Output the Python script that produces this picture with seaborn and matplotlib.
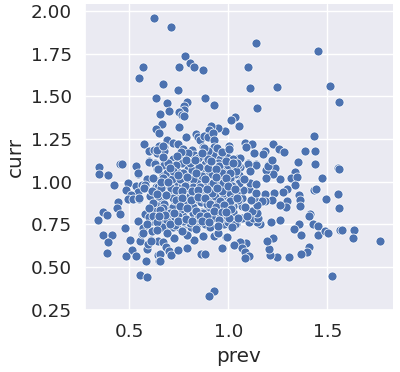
import matplotlib
matplotlib.use("Agg")
import matplotlib.pyplot as plt
import pandas as pd
import seaborn as sns

#Values, pairs of (prev, curr)
upper_pts = [
    (.626,1.959),(.712,1.907),(.783,1.733),(.808,1.692),(.828,1.669),(.874,1.651),(.753,1.669),(.571,1.669),
    (.551,1.605),(.672,1.570),(.747,1.535),(.636,1.488),(.884,1.488),(.929,1.448),(.692,1.459),(.793,1.465),
    (.774,1.442),(.778,1.419),(.702,1.413),(.749,1.407),(.768,1.388),(.774,1.382),(.657,1.395),(.667,1.337),
    (.636,1.308),(.652,1.285),(.753,1.320),(1.035,1.378),(1.015,1.360),(1.054,1.328),(.985,1.297),(.949,1.314),
    (.914,1.326),(.904,1.302),(.788,1.262),(.838,1.279),(.848,1.262),(.859,1.244),(.879,1.267),(.899,1.262),
    (.924,1.285),(.929,1.244),(.692,1.244),(.722,1.227),(.747,1.221),(.576,1.221),(.601,1.180),(.626,1.186),
    (.641,1.169),(.652,1.211),(.677,1.203),(.677,1.180),(.929,1.203),(.874,1.203),(.818,1.186),(1.005,1.207),
    (1.005,1.184),(.965,1.167),(.778,1.145),
    (.601,1.122),(.631,1.110),(.677,1.110),(.732,1.105),(.712,1.122),(.737,1.145),(.793,1.110),(.828,1.157),
    (.848,1.140),(.879,1.145),(.899,1.134),(.924,1.157),(.960,1.134),(.995,1.145),(1.030,1.134),(1.051,1.140),
    (1.005,1.110),(.949,1.110),(.884,1.105),(.838,1.116),(.773,1.192),(.798,1.169),(.899,1.180),(.763,1.174),
    (.722,1.134),
]
right_top_pts = [
    (1.141,1.814),(1.455,1.767),(1.101,1.669),(1.111,1.547),(1.247,1.552),(1.515,1.558),(1.561,1.465),(1.146,1.430),
    (1.434,1.267),(1.086,1.227),(1.121,1.221),(1.091,1.203),(1.227,1.221),(1.258,1.192),(1.283,1.174),(1.187,1.180),
    (1.177,1.163),(1.131,1.169),(1.222,1.128),(1.389,1.180),(1.439,1.180),(1.061,1.140),(1.025,1.134),(1.101,1.110),
    (1.141,1.105),(1.202,1.099),
]
left_pts = [
    (.348,1.087),(.348,1.047),(.394,1.041),(.424,.983),(.455,1.105),(.463,1.105),(.535,1.093),(.545,1.047),
    (.495,.994),(.485,.953),(.535,.977),(.566,.983),(.576,.965),(.545,.942),(.510,.919),(.495,.901),
    (.520,.901),(.551,.901),(.444,.878),(.439,.843),(.369,.820),(.389,.802),(.455,.808),(.343,.773),
    (.545,.767),(.591,.750),(.480,.727),(.369,.686),(.414,.686),(.394,.645),(.389,.581),(.505,.657),
    (.556,.651),(.515,.599),(.485,.564),(.535,.564),(.586,.535),(.591,.605),(.596,.634),(.611,.657),
    (.646,.651),(.672,.645),(.566,.692),(.571,.727),(.616,.709),(.687,.616),(.702,.593),(.712,.570),
    (.646,.570),(.657,.576),(.652,.535),(.657,.535),(.747,.599),(.793,.610),(.727,.669),(.828,.657),
    (.864,.576),(.882,.576),(.970,.610),(1.030,.628),(.990,.674),(.929,.680),(.874,.680),(.793,.686),
    (.556,.453),(.591,.442),(.929,.360),(.904,.331),(1.054,.645),(1.015,.733),(.949,.698),
]
right_pts = [
    (1.354,1.116),(1.439,1.105),(1.556,1.081),(1.561,1.076),(1.475,1.023),(1.338,1.058),(1.318,1.023),(1.348,1.029),
    (1.338,.983),(1.298,.959),(1.278,.942),(1.263,1.017),(1.237,1.081),(1.227,1.047),(1.192,1.070),(1.192,1.023),
    (1.202,1.093),(1.222,1.124),(1.141,1.099),(1.434,.953),(1.444,.959),(1.556,.930),(1.495,.901),(1.561,.843),
    (1.359,.919),(1.364,.890),(1.364,.860),(1.298,.884),(1.290,.849),(1.263,.866),(1.232,.936),(1.222,.890),
    (1.187,.930),(1.187,.884),(1.414,.808),(1.406,.797),(1.429,.750),(1.455,.738),(1.359,.750),(1.333,.721),
    (1.369,.686),(1.455,.686),(1.490,.709),(1.505,.698),(1.566,.715),(1.576,.715),(1.636,.715),(1.631,.669),
    (1.768,.651),(1.525,.448),(1.409,.616),(1.399,.587),(1.369,.576),(1.308,.558),(1.247,.558),(1.212,.570),
    (1.207,.605),(1.227,.669),(1.197,.651),(1.091,.640),(1.061,.645),(1.030,.628),(1.071,.610),(1.086,.587),
    (1.106,.564),(1.086,.552),(1.217,.762),(1.263,.773),(1.162,.750),(1.146,.762),(1.106,.762),(1.071,.785),
    (1.126,.785),(1.152,.785),(1.146,.814),(1.118,.826),(1.025,.820),(1.071,.855),(1.172,.884),(1.146,.866),
    (1.131,.907),(1.116,.890),(1.106,.959),(1.140,.936),(1.071,.907),(1.041,.936),(1.111,.994),(1.141,.988),
    (1.076,.953),(1.056,1.041),(1.017,1.023),(1.101,1.105),(1.061,1.087),(1.111,1.064),(1.020,.762),(1.041,.750),
    (1.017,.733),
]
dense_pts = [
    (.601,1.116),(.631,1.105),(.677,1.099),(.732,1.099),(.641,1.076),(.697,1.052),(.616,1.023),(.641,1.006),
    (.672,1.041),(.712,1.023),(.758,1.012),(.773,1.052),(.828,1.017),(.808,1.087),(.843,1.087),(.884,1.076),
    (.924,1.047),(.965,1.041),(.955,1.087),(1.005,1.105),(1.051,1.099),(1.035,1.047),(.975,.994),(.929,.994),
    (.884,.994),(.859,.971),(.808,.971),(.783,.965),(.742,.971),(.712,.965),(.667,.942),(.613,.948),
    (.621,.884),(.601,.843),(.581,.808),(.621,.802),(.616,.767),(.662,.738),(.692,.738),(.722,.733),
    (.753,.733),(.783,.750),(.813,.733),(.848,.750),(.884,.750),(.904,.733),(.980,.750),(1.000,.762),
    (1.035,.750),(.949,.820),(.929,.785),(.884,.820),(.869,.820),(.823,.855),(.763,.837),(.692,.785),
    (.742,.808),(.798,.779),(.838,.779),(.712,.913),(.667,.901),(.778,.913),(.808,.919),(.869,.907),
    (.924,.895),(.985,.895),(1.040,.936),(1.025,.820),(.914,.936),(.859,.936),(.758,.878),(.692,.843),
    (.646,.855),(.601,.791),(.672,.820),(.722,.849),(.793,.878),(.848,.884),(.889,.878),(.949,.878),
    (1.005,.878),(1.051,.895),(1.051,.994),(1.005,.953),(.955,.936),(.823,.936),
    (.768,1.110),(.798,1.076),(.828,1.099),(.919,1.105),(.985,1.076),(1.015,1.058),(.899,1.041),(.854,1.041),
    (.803,1.047),(.747,1.058),(.717,1.076),(.949,1.012),(1.015,1.006),(1.042,.983),(.904,.983),(.843,1.006),
    (.783,1.006),(.727,.994),(.677,.983),(.636,.971),(.899,.936),(.934,.913),(.975,.936),(1.025,.913),
    (.833,.901),(.747,.924),(.697,.930),(.646,.913),(.606,.913),(.798,.936),(.864,.878),(.899,.849),
    (.970,.855),(1.025,.855),(.788,.837),(.727,.890),(.677,.872),(.631,.826),(.702,.814),(.773,.797),
    (.823,.814),(.864,.785),(.904,.797),(.985,.791),(1.051,.785),(.727,.773),(.652,.773),(.677,.762),
    (.778,.762),(1.008,1.099),(1.025,1.087),(1.041,1.064),(1.008,1.023),(1.056,.994),(1.025,.977),(1.081,1.014),
    (1.008,.936),(1.025,.901),(1.008,.866),(1.096,.800),(1.084,.849),
]
#Second pass over the crowded middle
center_pts = [
    (.638,1.188),(.672,1.207),(.734,1.100),(.697,1.110),(.647,1.075),(.546,1.048),(.588,1.013),(.618,1.023),
    (.579,.978),(.689,1.052),(.714,1.013),(.756,1.013),(.773,1.052),(.815,1.071),(.854,1.087),(.899,1.133),
    (.877,1.197),(.941,1.197),(.966,1.172),(1.003,1.192),(.955,1.091),(1.000,1.100),(1.042,1.110),(.916,1.042),
    (.966,1.052),(1.008,1.052),(.866,1.033),(.823,1.017),(.924,.994),(.975,.994),(1.017,.974),(.874,.974),
    (.823,.971),(.706,.971),(.781,.974),(.647,.971),(.899,1.081),(.722,1.062),(.849,1.139),(.807,1.110),
    (.672,1.023),(.551,.903),(.574,.965),(.613,.945),(.658,.961),(.709,.961),(.781,.916),(.807,.916),
    (.857,.968),(.916,.936),(.966,.945),(1.009,.887),(1.042,.906),(.621,.877),(.672,.848),(.601,.844),
    (.621,.800),(.692,.771),(.759,.839),(.823,.852),(.870,.819),(.941,.819),(.992,.800),(.748,.800),
    (.807,.755),(.882,.751),(.663,.736),(.731,.748),(.591,.751),(.567,.697),(.608,.654),(.727,.670),
    (.793,.689),(.874,.684),(.950,.697),(.992,.674),(.908,.732),(1.017,.732),(.773,.767),(.849,.790),
    (.916,.790),(.706,.819),(.638,.761),(.722,.906),(.891,.868),(.958,.887),(.866,.906),
]
#Third pass, gaps still open in the middle
gap_pts = [
    (.742,1.152),(.786,1.128),(.832,1.128),(.866,1.168),(.912,1.118),(.938,1.072),(.986,1.118),(1.026,1.108),
    (.668,1.142),(.704,1.082),(.748,1.036),(.792,1.030),(.838,1.052),(.882,1.018),(.936,1.026),(.988,1.024),
    (.662,1.000),(.694,.995),(.736,.950),(.768,.944),(.816,.948),(.848,.952),(.892,.956),(.942,.964),
    (.998,.972),(1.034,.958),(.642,.930),(.684,.922),(.734,.892),(.764,.902),(.812,.890),(.846,.912),
    (.880,.902),(.906,.868),(.938,.850),(.978,.866),(1.012,.838),(.654,.832),(.682,.806),(.726,.818),
    (.754,.860),(.792,.848),(.836,.826),(.858,.800),(.892,.798),(.926,.826),(.968,.822),(1.004,.790),
    (.650,.798),(.704,.752),(.744,.772),(.788,.784),(.818,.770),(.866,.768),(.902,.764),(.952,.776),
    (.986,.822),(.950,.742),(.836,.722),(.768,.712),(.690,.702),(.640,.716),
]

all_pts = upper_pts + right_top_pts + left_pts + right_pts + dense_pts + center_pts + gap_pts
data = pd.DataFrame(all_pts, columns=["prev", "curr"])

sns.set_theme(font_scale=1.2)

g = sns.relplot(data=data, x="prev", y="curr", s=42, height=3.72)
ax = g.ax
ax.set_xlim(.276, 1.832)
ax.set_ylim(.2485, 2.04)
ax.set_xticks([.5, 1.0, 1.5])
ax.set_yticks([.25, .5, .75, 1.0, 1.25, 1.5, 1.75, 2.0])
ax.set_yticklabels(["0.25", "0.50", "0.75", "1.00", "1.25", "1.50", "1.75", "2.00"])

g.figure.set_size_inches(4, 3.72)
g.figure.subplots_adjust(left=85 / 400, right=393 / 400, top=1 - 4 / 372, bottom=1 - 310 / 372)
g.figure.savefig("out.png", dpi=100)
